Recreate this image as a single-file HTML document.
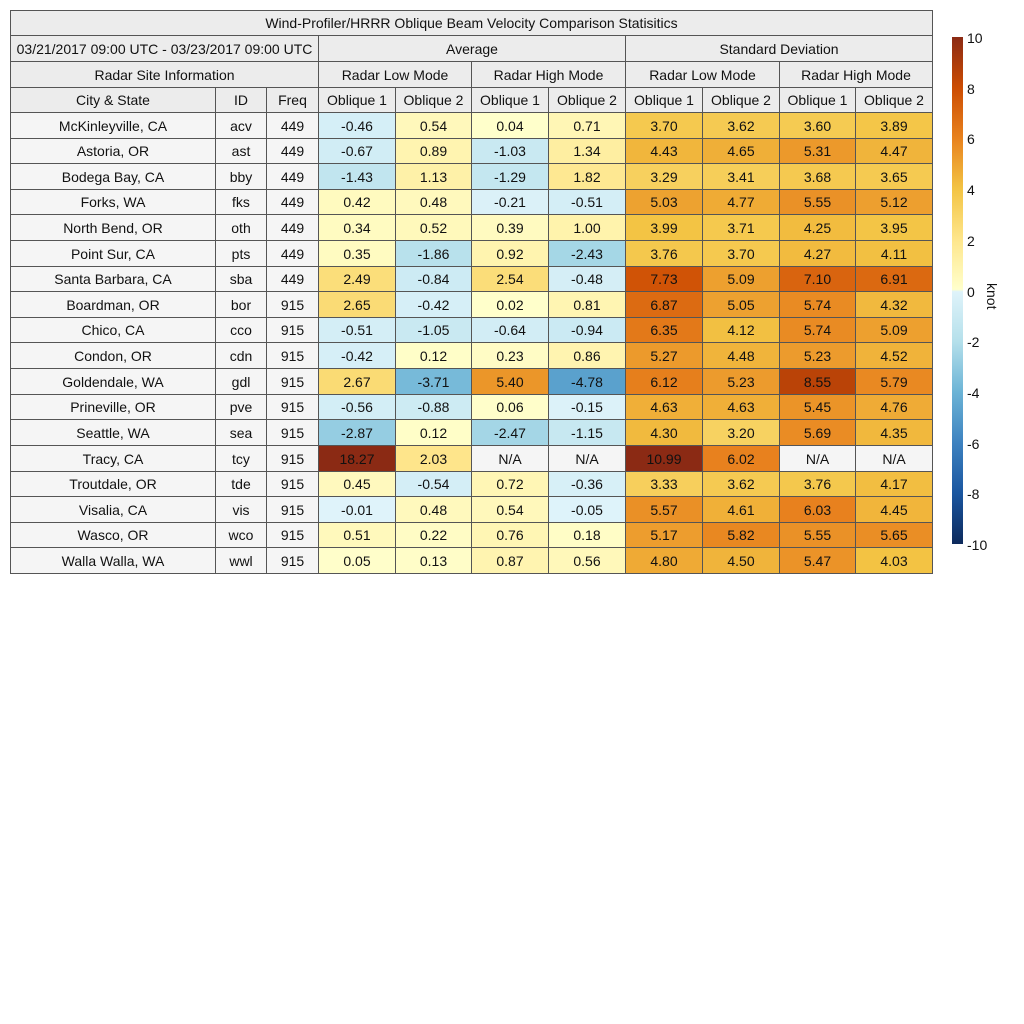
<!DOCTYPE html>
<html><head><meta charset="utf-8"><style>
body{margin:0;width:1024px;height:1024px;background:#fff;position:relative;font-family:"Liberation Sans",sans-serif;overflow:hidden}
.c{position:absolute;box-sizing:border-box;border:1px solid #555;display:flex;align-items:center;justify-content:center;font-size:14px;color:#111;margin:0 0 0 0}
.t{position:absolute;font-size:14px;color:#111}
</style></head><body>
<div id="g"></div>
<div style="position:absolute;left:952px;top:37px;width:11px;height:507px;background:linear-gradient(to bottom,#8b2a14 0%,#cc4c02 10%,#e8821e 20%,#f3c444 30%,#fee68c 40%,#ffffcc 49.8%,#dff3fa 50.2%,#b5e0eb 60%,#6cb4d6 70%,#3d82c0 80%,#1a56a0 90%,#0d2a5c 100%)"></div>
<script>
var X=[10,215,266,318,395,471,548,625,702,779,855,932];
var H=document.getElementById('g'),s='';
function cell(x1,x2,y1,y2,txt,bg){s+='<div class="c" style="left:'+x1+'px;top:'+y1+'px;width:'+(x2-x1+1)+'px;height:'+(y2-y1+1)+'px;background:'+bg+'">'+txt+'</div>';}
var hb='#ececec';
cell(10,932,10,35,'Wind-Profiler/HRRR Oblique Beam Velocity Comparison Statisitics',hb);
cell(10,318,35,61,'03/21/2017 09:00 UTC - 03/23/2017 09:00 UTC',hb);
cell(318,625,35,61,'Average',hb);cell(625,932,35,61,'Standard Deviation',hb);
cell(10,318,61,87,'Radar Site Information',hb);
var m=['Radar Low Mode','Radar High Mode','Radar Low Mode','Radar High Mode'];
for(var i=0;i<4;i++)cell(X[3+2*i],X[5+2*i],61,87,m[i],hb);
var hd=['City &amp; State','ID','Freq','Oblique 1','Oblique 2','Oblique 1','Oblique 2','Oblique 1','Oblique 2','Oblique 1','Oblique 2'];
for(i=0;i<11;i++)cell(X[i],X[i+1],87,112,hd[i],hb);
var P=[[0,[255,255,204]],[2,[254,230,140]],[4,[243,196,68]],[6,[232,130,30]],[8,[204,76,2]],[10,[139,42,20]]];
var N=[[0,[223,243,250]],[2,[181,224,235]],[4,[108,180,214]],[6,[61,130,192]],[8,[26,86,160]],[10,[13,42,92]]];
function col(v){var t=v>=0?P:N,a=Math.min(Math.abs(v),10);for(var k=0;k<5;k++){if(a<=t[k+1][0]){var f=(a-t[k][0])/2,c=t[k][1],d=t[k+1][1];return 'rgb('+c.map(function(q,j){return Math.round(q+(d[j]-q)*f)}).join(',')+')';}}}
var D=[["McKinleyville, CA","acv",449,-0.46,0.54,0.04,0.71,3.70,3.62,3.60,3.89],
["Astoria, OR","ast",449,-0.67,0.89,-1.03,1.34,4.43,4.65,5.31,4.47],
["Bodega Bay, CA","bby",449,-1.43,1.13,-1.29,1.82,3.29,3.41,3.68,3.65],
["Forks, WA","fks",449,0.42,0.48,-0.21,-0.51,5.03,4.77,5.55,5.12],
["North Bend, OR","oth",449,0.34,0.52,0.39,1.00,3.99,3.71,4.25,3.95],
["Point Sur, CA","pts",449,0.35,-1.86,0.92,-2.43,3.76,3.70,4.27,4.11],
["Santa Barbara, CA","sba",449,2.49,-0.84,2.54,-0.48,7.73,5.09,7.10,6.91],
["Boardman, OR","bor",915,2.65,-0.42,0.02,0.81,6.87,5.05,5.74,4.32],
["Chico, CA","cco",915,-0.51,-1.05,-0.64,-0.94,6.35,4.12,5.74,5.09],
["Condon, OR","cdn",915,-0.42,0.12,0.23,0.86,5.27,4.48,5.23,4.52],
["Goldendale, WA","gdl",915,2.67,-3.71,5.40,-4.78,6.12,5.23,8.55,5.79],
["Prineville, OR","pve",915,-0.56,-0.88,0.06,-0.15,4.63,4.63,5.45,4.76],
["Seattle, WA","sea",915,-2.87,0.12,-2.47,-1.15,4.30,3.20,5.69,4.35],
["Tracy, CA","tcy",915,18.27,2.03,null,null,10.99,6.02,null,null],
["Troutdale, OR","tde",915,0.45,-0.54,0.72,-0.36,3.33,3.62,3.76,4.17],
["Visalia, CA","vis",915,-0.01,0.48,0.54,-0.05,5.57,4.61,6.03,4.45],
["Wasco, OR","wco",915,0.51,0.22,0.76,0.18,5.17,5.82,5.55,5.65],
["Walla Walla, WA","wwl",915,0.05,0.13,0.87,0.56,4.80,4.50,5.47,4.03]];
for(var r=0;r<18;r++){var y1=Math.round(112+r*25.61),y2=Math.round(112+(r+1)*25.61);
for(i=0;i<11;i++){var v=D[r][i];if(i<3)cell(X[i],X[i+1],y1,y2,v,'#f5f5f5');
else if(v===null)cell(X[i],X[i+1],y1,y2,'N/A','#f5f5f5');
else cell(X[i],X[i+1],y1,y2,v.toFixed(2),col(v));}}
var L=[10,8,6,4,2,0,-2,-4,-6,-8,-10];
for(i=0;i<11;i++)s+='<div class="t" style="left:967px;top:'+(30+i*50.7)+'px">'+L[i]+'</div>';
s+='<div class="t" style="left:975px;top:283px;transform:rotate(90deg);transform-origin:left top;left:1000px">knot</div>';
H.innerHTML=s;
</script>
</body></html>
